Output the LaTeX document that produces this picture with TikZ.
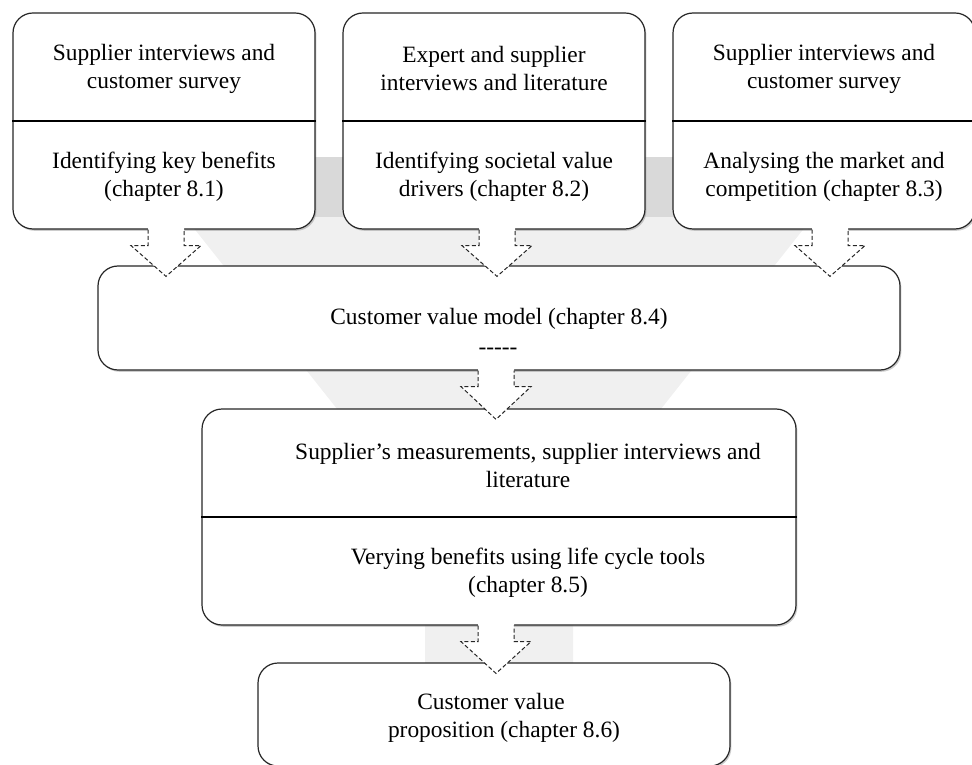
\documentclass[tikz,border=0pt]{standalone}
\usepackage{fontspec}
\setmainfont{Liberation Serif}
\usetikzlibrary{calc,shadows}

\definecolor{funneldark}{HTML}{D9D9D9}
\definecolor{funnellight}{HTML}{F0F0F0}

\tikzset{
  box/.style={draw=black!85, line width=0.6pt, fill=white, rounded corners=10pt,
    drop shadow={shadow xshift=0.7pt, shadow yshift=-0.9pt, opacity=0.4}},
  divider/.style={draw=black, line width=1pt},
  label/.style={align=center, inner sep=0pt, font=\fontsize{11.7}{14}\selectfont},
  arrowline/.style={draw=black!85, line width=0.5pt, dash pattern=on 2pt off 1.2pt},
}

% block arrow from the bottom of #1 into the top of #2, shifted sideways by #3
\newcommand\flowarrow[3]{%
  \fill[white] let \p1=($(#1.south)+(#3,0)$), \p2=(#2.north) in
    (\x1-9pt,\y1+1.5pt) -- (\x1-9pt,\y1-8pt) -- (\x1-17.5pt,\y1-8pt) --
    (\x1,\y2-5.5pt) -- (\x1+17.5pt,\y1-8pt) -- (\x1+9pt,\y1-8pt) --
    (\x1+9pt,\y1+1.5pt) -- cycle;
  \draw[arrowline, line join=miter] let \p1=($(#1.south)+(#3,0)$), \p2=(#2.north) in
    (\x1-9pt,\y1) -- (\x1-9pt,\y1-8pt) -- (\x1-17.5pt,\y1-8pt) --
    (\x1,\y2-5.5pt) -- (\x1+17.5pt,\y1-8pt) -- (\x1+9pt,\y1-8pt) -- (\x1+9pt,\y1);
}

\begin{document}
\begin{tikzpicture}[x=0.5pt, y=-0.5pt]
\useasboundingbox (0,0) rectangle (972,764);

% funnel behind the flow
\fill[funnellight] (185,217) -- (813,217) -- (573,520) -- (573,690) -- (425,690) -- (425,520) -- cycle;
\fill[funneldark] (130,157) rectangle (868,217);

% boxes
\node[box, minimum width=151pt, minimum height=108pt] (b1) at (164,121) {};
\node[box, minimum width=151pt, minimum height=108pt] (b2) at (494,121) {};
\node[box, minimum width=151pt, minimum height=108pt] (b3) at (824,121) {};
\node[box, minimum width=401pt, minimum height=52pt] (cvm) at (499,318) {};
\node[box, minimum width=297pt, minimum height=108pt] (sms) at (499,517) {};
\node[box, minimum width=236pt, minimum height=51.5pt] (cvp) at (494,714.5) {};

\draw[divider] (b1.west) -- (b1.east);
\draw[divider] (b2.west) -- (b2.east);
\draw[divider] (b3.west) -- (b3.east);
\draw[divider] (sms.west) -- (sms.east);

% texts
\node[label] (t1a) at (164,69) {Supplier interviews and\\customer survey};
\node[label] (t1b) at (164,176.5) {Identifying key benefits\\(chapter 8.1)};
\node[label] (t2a) at (494,69) {Expert and supplier\\interviews and literature};
\node[label] (t2b) at (494,176.5) {Identifying societal value\\drivers (chapter 8.2)};
\node[label] (t3a) at (824,69) {Supplier interviews and\\customer survey};
\node[label] (t3b) at (824,176.5) {Analysing the market and\\competition (chapter 8.3)};
\node[label] (t4a) at (499,319) {Customer value model (chapter 8.4)};
\node[label] (t4b) at (498,351) {-{}-{}-{}-{}-};
\node[label] (t5a) at (528,465) {Supplier’s measurements, supplier interviews and\\literature};
\node[label] (t5b) at (528,572.5) {Verying benefits using life cycle tools\\(chapter 8.5)};
\node[label] (t6) at (497.5,717.5) {Customer value\hspace*{6.5pt}\\\hspace*{6.5pt}proposition (chapter 8.6)};

% arrows
\flowarrow{b1}{cvm}{1pt}
\flowarrow{b2}{cvm}{1.5pt}
\flowarrow{b3}{cvm}{3pt}
\flowarrow{cvm}{sms}{-1.5pt}
\flowarrow{sms}{cvp}{-1.5pt}
\end{tikzpicture}
\end{document}
